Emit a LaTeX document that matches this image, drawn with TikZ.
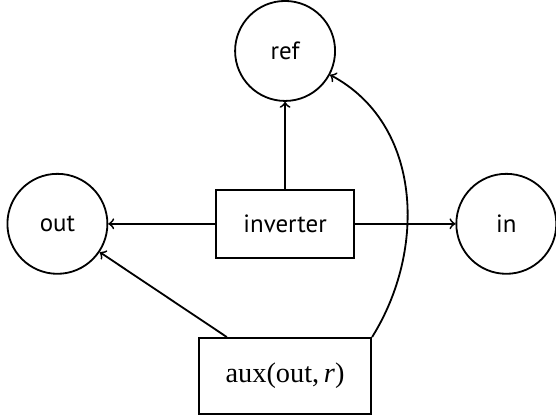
\documentclass[tikz,border=0pt]{standalone}
\usepackage{fontspec}
\setmainfont{Liberation Serif}
\setsansfont{PT Sans}
\usepackage{tikz}
\usetikzlibrary{shapes.geometric, arrows}
\tikzstyle{state} = [circle, 
minimum size=1.55cm, 
text centered, 
draw=black, 
thick]
\tikzstyle{block} = [rectangle, 
minimum width=2.14cm, 
minimum height=1.05cm, 
text centered,
draw=black, 
thick]
\tikzstyle{auxblock} = [rectangle, 
minimum width=2.67cm, 
minimum height=1.18cm, 
text centered,
draw=black, 
thick]

\begin{document}
\begin{tikzpicture}[node distance=1.5cm]
\tikzstyle{every node}=[font=\sffamily\fontsize{11}{13}\selectfont]
\useasboundingbox (-4.42,3.47) rectangle (4.20,-3.02);
\node (inv) [block] {inverter};
\node (ref) [state, above of=inv, yshift=1.18cm] {ref};
\node (out) [state, left of=inv, xshift=-2.03cm] {out};
\node (in) [state, right of=inv, xshift=1.93cm] {in};
\node (aux) [auxblock, below of=inv, yshift=-0.86cm] {\rmfamily\fontsize{12.5}{14}\selectfont aux(out,\,\textit{r})};

\draw [->, thick] (inv) edge (ref);
\draw [->, thick] (inv) edge (out);
\draw [->, thick] (inv) edge (in);
\draw [->, thick] (aux) edge (out);
\draw [->, thick] (aux.north east) to[out=58, in=-28] (ref);
\end{tikzpicture}
\end{document}
